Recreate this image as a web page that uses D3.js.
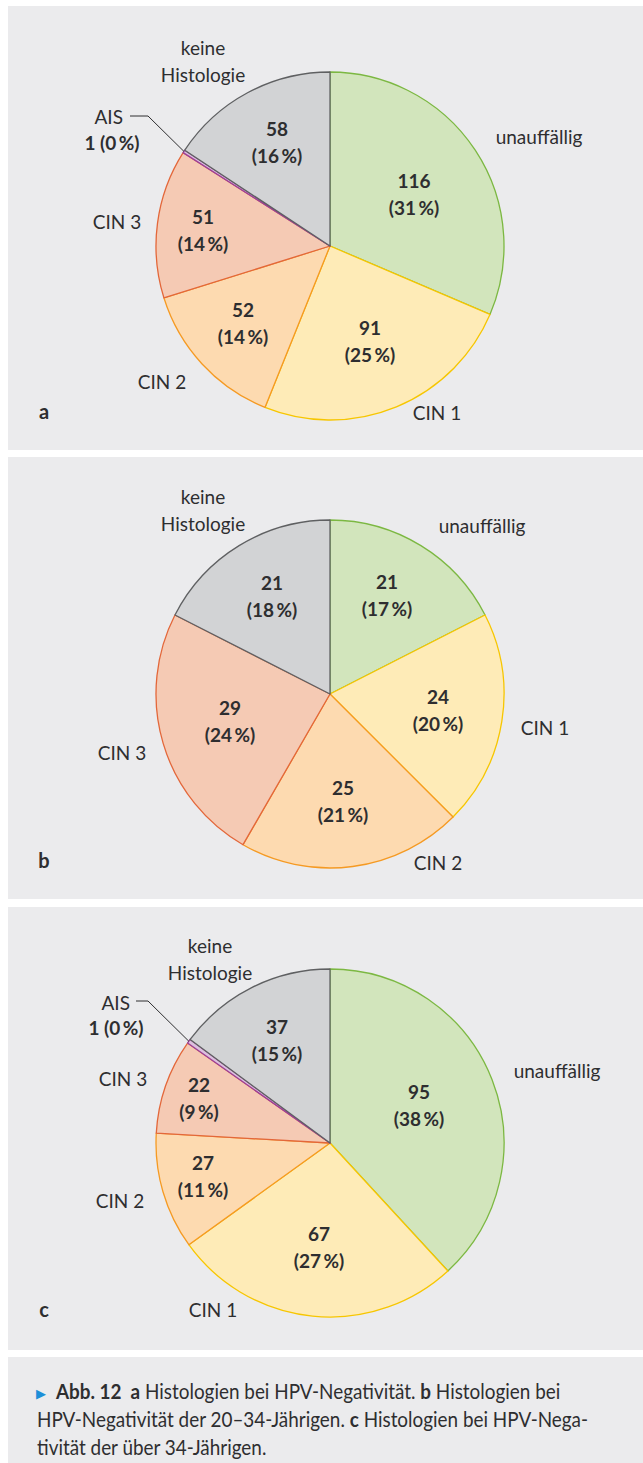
<!DOCTYPE html>
<html>
<head>
<meta charset="utf-8">
<script src="https://cdnjs.cloudflare.com/ajax/libs/d3/7.8.5/d3.min.js"></script>
<style>
    html, body { margin: 0; padding: 0; background: #fff; }
    svg { display: block; }
    text { font-family: Lato, "Open Sans", sans-serif; fill: #2e2e30; }
    .bold { font-weight: 700; }
</style>
</head>
<body>
<svg id="chart" width="643" height="1463"></svg>
<script>
/*global d3*/
"use strict";

// categories, in the order the slices run clockwise from 12 o'clock
var categories = ['unauffällig', 'CIN 1', 'CIN 2', 'CIN 3', 'AIS', 'keine Histologie'];

// a: all women, b: 20-34 years, c: older than 34
var valuesA = [116, 91, 52, 51, 1, 58];
var percentA = [31, 25, 14, 14, 0, 16];
var valuesB = [21, 24, 25, 29, 0, 21];
var percentB = [17, 20, 21, 24, 0, 18];
var valuesC = [95, 67, 27, 22, 1, 37];
var percentC = [38, 27, 11, 9, 0, 15];

var panelLetters = ['a', 'b', 'c'];

var fills = ['#d2e5bc', '#feebb7', '#fddab0', '#f5cab4', '#dcc0de', '#d2d3d5'];
var strokes = ['#7cb842', '#f7c600', '#f59a23', '#e3673a', '#9c3f98', '#5f6062'];

var radius = 174,
    lineGap = 27,

    /**
     * Where the labels sit, relative to the pie centre. Placed by hand like
     * the spreadsheet did, one entry per category (null = no label there).
     */
    layout = [
        {
            top: 6, bottom: 450, cx: 330, cy: 246, letterY: 419,
            inner: [[84, -52], [40, 95], [-87, 77], [-127, -16], null, [-53, -104]],
            outer: [[209, -109], [107, 167], [-168, 136], [-213, -24], null, [-127, -185]],
            ais: { label: [-207, -129], value: [-218, -103], knee: [[-200, -130], [-182, -130]] }
        },
        {
            top: 457, bottom: 899, cx: 330, cy: 694, letterY: 868,
            inner: [[57, -99], [108, 16], [13, 107], [-100, 27], null, [-58, -98]],
            outer: [[152, -168], [215, 34], [108, 169], [-208, 59], null, [-127, -184]],
            ais: null
        },
        {
            top: 907, bottom: 1350, cx: 330, cy: 1143, letterY: 1317,
            inner: [[89, -38], [-11, 104], [-127, 33], [-131, -45], null, [-53, -103]],
            outer: [[227, -72], [-117, 167], [-210, 58], [-207, -64], null, [-120, -184]],
            ais: { label: [-200, -140], value: [-214, -115], knee: [[-194, -142], [-182, -142]] }
        }
    ],

    series = [
        { values: valuesA, percent: percentA },
        { values: valuesB, percent: percentB },
        { values: valuesC, percent: percentC }
    ],

    svg = d3.select('#chart'),

    pie = d3.pie().sort(null).value(function (d) { return d.value; }),
    arc = d3.arc().innerRadius(0).outerRadius(radius),

    /**
     * Two centred lines of text around a y centre.
     */
    twoLines = function (g, x, y, lines, cls) {
        var t = g.append('text')
            .attr('class', cls || null)
            .attr('text-anchor', 'middle')
            .style('font-size', '19px');
        lines.forEach(function (s, i) {
            t.append('tspan')
                .attr('x', x)
                .attr('y', y + 7 + (i - (lines.length - 1) / 2) * lineGap)
                .text(s);
        });
        return t;
    },

    drawPanel = function (p, i) {
        var s = series[i],
            rows = categories.map(function (c, k) {
                return { cat: c, idx: k, value: s.values[k], pct: s.percent[k] };
            }).filter(function (d) { return d.value > 0; }),
            arcs = pie(rows),
            g,
            labels;

        svg.append('rect')
            .attr('x', 8)
            .attr('y', p.top)
            .attr('width', 635)
            .attr('height', p.bottom - p.top)
            .attr('fill', '#ebebed');

        g = svg.append('g')
            .attr('transform', 'translate(' + p.cx + ',' + p.cy + ')');

        g.selectAll('path.slice')
            .data(arcs)
            .enter().append('path')
            .attr('class', 'slice')
            .attr('d', arc)
            .attr('fill', function (d) { return fills[d.data.idx]; })
            .attr('stroke', function (d) { return strokes[d.data.idx]; })
            .attr('stroke-width', 1.3)
            .attr('stroke-linejoin', 'round');

        labels = g.append('g');

        arcs.forEach(function (d) {
            var k = d.data.idx,
                inner = p.inner[k],
                outer = p.outer[k],
                mid,
                tip;
            if (inner) {
                twoLines(labels, inner[0], inner[1],
                    [String(d.data.value), '(' + d.data.pct + '\u2009%)'], 'bold');
            }
            if (outer) {
                twoLines(labels, outer[0], outer[1],
                    k === 5 ? ['keine', 'Histologie'] : [d.data.cat]);
            }
            if (k === 4 && p.ais) {
                // leader from the label to the rim of the thin AIS slice
                mid = (d.startAngle + d.endAngle) / 2;
                tip = [Math.sin(mid) * radius, -Math.cos(mid) * radius];
                labels.append('path')
                    .attr('d', d3.line()([p.ais.knee[0], p.ais.knee[1], tip]))
                    .attr('fill', 'none')
                    .attr('stroke', '#2e2e30')
                    .attr('stroke-width', 1);
                labels.append('text')
                    .attr('x', p.ais.label[0])
                    .attr('y', p.ais.label[1] + 7)
                    .attr('text-anchor', 'end')
                    .style('font-size', '19px')
                    .text(d.data.cat);
                labels.append('text')
                    .attr('class', 'bold')
                    .attr('x', p.ais.value[0])
                    .attr('y', p.ais.value[1] + 7)
                    .attr('text-anchor', 'middle')
                    .style('font-size', '19px')
                    .text(d.data.value + ' (' + d.data.pct + '\u2009%)');
            }
        });

        svg.append('text')
            .attr('class', 'bold')
            .attr('x', 44)
            .attr('y', p.letterY)
            .attr('text-anchor', 'middle')
            .style('font-size', '20px')
            .text(panelLetters[i]);
    },

    drawCaption = function () {
        var top = 1357,
            cap,
            line;

        svg.append('rect')
            .attr('x', 8)
            .attr('y', top)
            .attr('width', 635)
            .attr('height', 1463 - top)
            .attr('fill', '#ebebed');

        svg.append('text')
            .attr('x', 36)
            .attr('y', 1398)
            .style('font-family', '"DejaVu Sans", sans-serif')
            .style('font-size', '13px')
            .style('fill', '#1d8fd8')
            .text('\u25B6');

        cap = svg.append('g')
            .attr('transform', 'translate(37,0) scale(0.9,1)')
            .style('font-size', '21px');

        line = cap.append('text').attr('xml:space', 'preserve').attr('x', 21).attr('y', 1399);
        line.append('tspan').attr('class', 'bold').text('Abb. 12  a');
        line.append('tspan').text(' Histologien bei HPV-Negativität. ');
        line.append('tspan').attr('class', 'bold').text('b');
        line.append('tspan').text(' Histologien bei');

        line = cap.append('text').attr('xml:space', 'preserve').attr('x', 0).attr('y', 1427);
        line.append('tspan').text('HPV-Negativität der 20–34-Jährigen. ');
        line.append('tspan').attr('class', 'bold').text('c');
        line.append('tspan').text(' Histologien bei HPV-Nega-');

        cap.append('text').attr('x', 0).attr('y', 1455)
            .text('tivität der über 34-Jährigen.');
    };

layout.forEach(drawPanel);
drawCaption();
</script>
</body>
</html>
